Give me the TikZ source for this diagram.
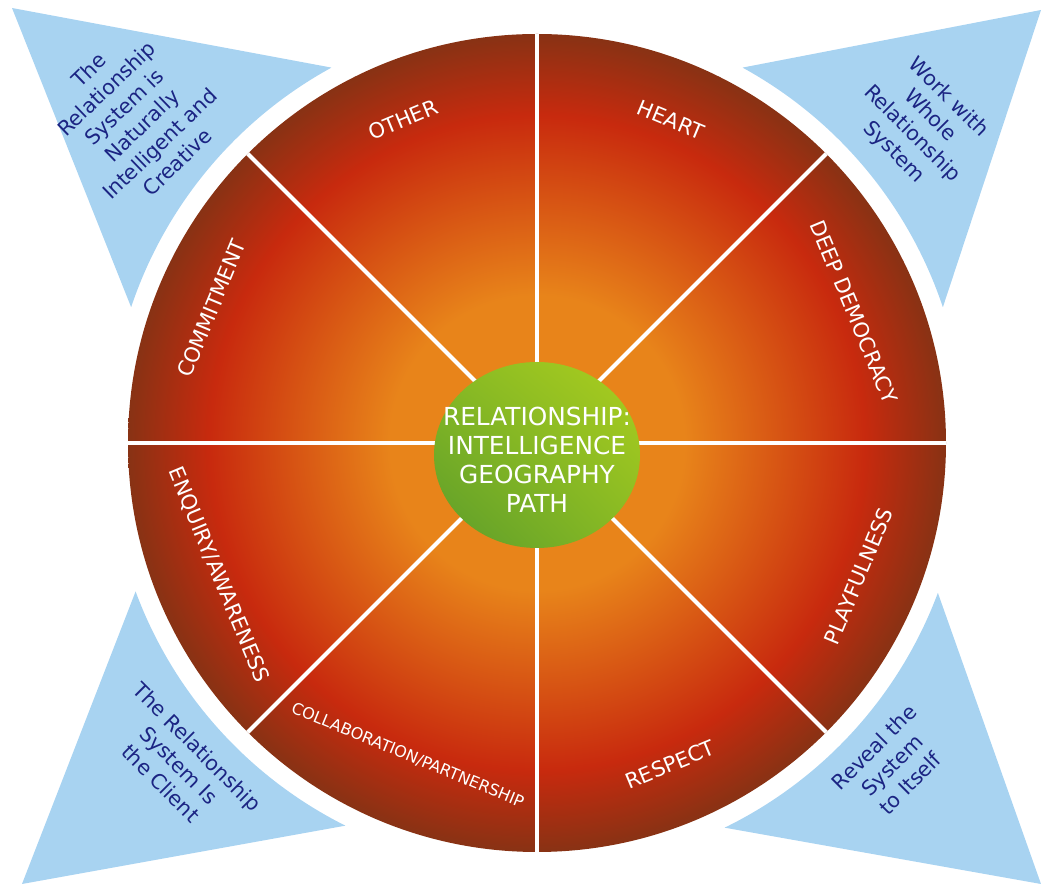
\documentclass[tikz,border=0pt]{standalone}
\usepackage{fontspec}
\setmainfont{DejaVu Sans}
\usetikzlibrary{calc,shadings}

\definecolor{skyblue}{RGB}{168,211,241}
\definecolor{navytext}{RGB}{27,36,131}
\definecolor{wheelorange}{RGB}{232,132,26}
\definecolor{wheelred}{RGB}{200,42,14}
\definecolor{wheeldark}{RGB}{136,50,20}
\definecolor{hublight}{RGB}{172,206,30}
\definecolor{hubmid}{RGB}{136,186,36}
\definecolor{hubdark}{RGB}{92,156,42}

% circle edge sits at 25bp of the shading
\pgfdeclareradialshading{wheel}{\pgfpoint{0bp}{0bp}}{color(0bp)=(wheelorange); color(9bp)=(wheelorange); color(20bp)=(wheelred); color(25bp)=(wheeldark); color(50bp)=(wheeldark)}

\begin{document}
\begin{tikzpicture}[x=0.5pt,y=0.5pt,
  corner/.style={fill=skyblue},
  cornertext/.style={text=navytext, align=center, font=\fontsize{10.3}{12.8}\selectfont},
  sector/.style={text=white, font=\fontsize{10.5}{12}\selectfont}]
  \useasboundingbox (0,0) rectangle (1041,884);
  \coordinate (c) at (537,441);
  % blue corners
  \foreach \ax/\ay/\sa/\ea in {12/876/118.7/161.5, 1041/874/61.3/18.5, 22/0/200.3/243.4, 1041/0/339.5/296} {
    \fill[corner] (\ax,\ay) -- ($(c)+(\sa:428)$) arc[start angle=\sa, end angle=\ea, radius=428] -- cycle;}
  \node[cornertext, rotate=44] (tl) at (133,768) {The\\Relationship\\System is\\Naturally\\Intelligent and\\Creative};
  \node[cornertext, rotate=-45] (tr) at (921,759) {Work with\\Whole\\Relationship\\System};
  \node[cornertext, rotate=-45] (bl) at (179,119) {The Relationship\\System Is\\the Client};
  \node[cornertext, rotate=45] (br) at (892,119) {Reveal the\\System\\to Itself};
  % wheel
  \shade[shading=wheel] (c) circle[radius=409];
  \foreach \a in {0,45,...,315} {\draw[white, line width=2pt] (c) -- ++(\a:409);}
  \shade[upper right=hublight, upper left=hubmid, lower right=hubmid, lower left=hubdark] (537,429) ellipse[x radius=103, y radius=93];
  \node[text=white, align=center, font=\fontsize{12.4}{14.5}\selectfont] (hub) at (537,424) {RELATIONSHIP:\\INTELLIGENCE\\GEOGRAPHY\\PATH};
  % sector labels
  \foreach \a/\r/\rot/\txt in {112.5/350/22.5/OTHER, 67.5/350/-22.5/HEART, 22.5/343/-67.5/DEEP DEMOCRACY, 157.5/352/67.5/COMMITMENT, 202.5/345/-67.5/{ENQUIRY/AWARENESS}, 292.5/348/22.5/RESPECT, 337.5/348/67.5/PLAYFULNESS}
    \node[sector, rotate=\rot] (seg-\a) at ($(c)+(\a:\r)$) {\txt};
  \node[sector, rotate=-22.5, font=\fontsize{8}{10}\selectfont] (seg-collab) at ($(c)+(247.5:338)$) {COLLABORATION/PARTNERSHIP};
\end{tikzpicture}
\end{document}
